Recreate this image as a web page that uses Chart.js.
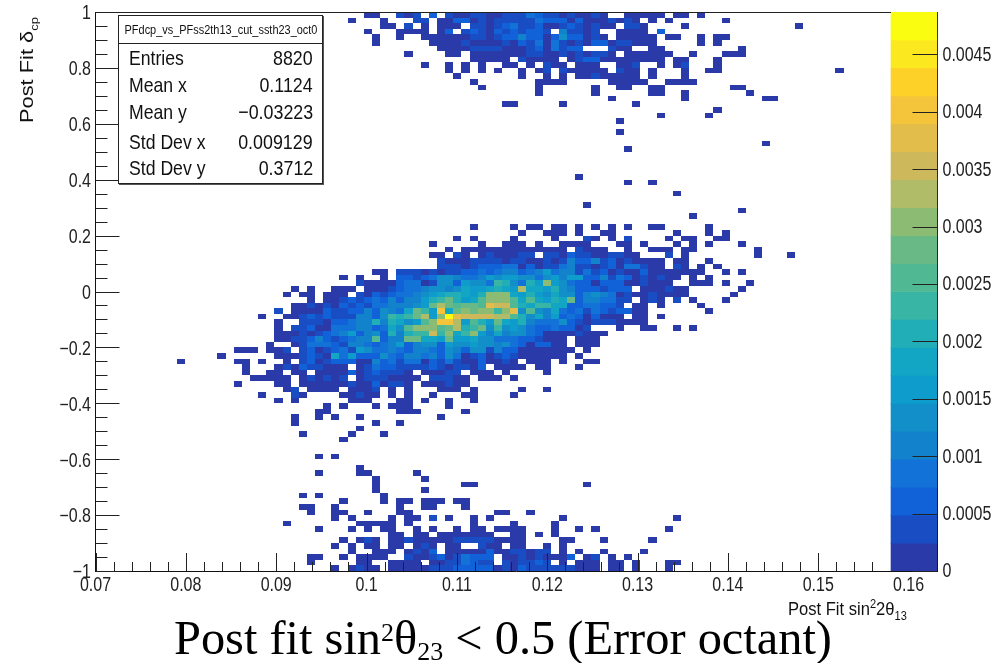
<!DOCTYPE html>
<html>
<head>
<meta charset="utf-8">
<title>Post fit</title>
<script src="https://cdn.jsdelivr.net/npm/chart.js@4"></script>
<style>
  body { margin: 0; background: #fff; }
  #wrap { position: relative; width: 1006px; height: 663px; overflow: hidden; color: #111; font-family: "Liberation Sans", sans-serif; }
  #wrap div { position: absolute; white-space: nowrap; }
  #stats { left: 118px; top: 15px; width: 203px; height: 167px; background: #fff; border: 1px solid #222;
           box-shadow: 1px 1px 0 #555; font-size: 21px; }
  #statsName { left: 0; right: 0; top: 0; height: 27px; border-bottom: 1px solid #222; }
  #statsName span { position: absolute; left: 50%; top: 0; font-size: 13.2px; line-height: 27px; transform: translateX(-50%) scaleX(0.83); }
  .key { left: 10px; transform-origin: 0 0; transform: scaleX(0.84); }
  .val { right: 9px; transform-origin: 100% 0; transform: scaleX(0.85); }
  #xTitle { left: 788px; top: 599px; font-size: 18px; transform-origin: 0 0; transform: scaleX(0.92); }
  #xTitle sup, #xTitle sub { font-size: 12px; line-height: 0; }
  #yTitle { left: 16px; top: 123px; font-size: 18.5px; transform-origin: 0 0; transform: rotate(-90deg) scaleX(1.18); }
  #yTitle sub { font-size: 11px; line-height: 0; }
  #mainTitle { left: 174px; top: 610px; font: 48.4px "Liberation Serif", serif; color: #000; }
  #mainTitle sup { font-size: 26px; line-height: 0; vertical-align: 13px; }
  #mainTitle sub { font-size: 26px; line-height: 0; vertical-align: -6px; }
</style>
</head>
<body>
<div id="wrap">
  <canvas id="histChart" width="1006" height="663"></canvas>
  <div id="stats">
    <div id="statsName"><span>PFdcp_vs_PFss2th13_cut_ssth23_oct0</span></div>
  </div>
  <div id="xTitle">Post Fit sin<sup>2</sup>2θ<sub>13</sub></div>
  <div id="yTitle">Post Fit δ<sub>cp</sub></div>
  <div id="mainTitle">Post fit sin<sup>2</sup>θ<sub>23</sub> &lt; 0.5 (Error octant)</div>
</div>
<script>
// axis ticks
const xTicks = [0.07, 0.08, 0.09, 0.1, 0.11, 0.12, 0.13, 0.14, 0.15, 0.16];
const yTicks = [-1, -0.8, -0.6, -0.4, -0.2, 0, 0.2, 0.4, 0.6, 0.8, 1];
const zTicks = [0, 0.0005, 0.001, 0.0015, 0.002, 0.0025, 0.003, 0.0035, 0.004, 0.0045];

// stats box
const statNames = ["Entries", "Mean x", "Mean y", "Std Dev x", "Std Dev y"];
const statValues = ["8820", "0.1124", "\u22120.03223", "0.009129", "0.3712"];
const statTops = [30, 57, 84, 114, 140];

// contour colours, lowest level first
const levelColors = ["#2a3aa8", "#184dc4", "#1162d8", "#1272d8", "#1282cc", "#128ec8", "#0e9ccc", "#12a6c4",
  "#22aeb6", "#38b5a4", "#50b892", "#68b985", "#8cbb74", "#b0bc68", "#cdb95c", "#e2bd4c",
  "#f4c43a", "#fdd128", "#fbe81e", "#fafd10"];

// histogram bins: [row from top, first x bin, levels]
const cellRuns = [
  [0,33,"00"],[0,37,"101"],[0,41,"2"],[0,43,"10011001113211010010"],[0,65,"00000"],[0,71,"00"],[0,74,"0"],
  [1,31,"0"],[1,35,"0"],[1,39,"11"],[1,42,"0022010111113222020001010"],[1,68,"0"],[1,70,"0"],[1,77,"0"],
  [2,35,"00"],[2,38,"1"],[2,40,"0"],[2,42,"000"],[2,46,"110123112001210100"],[2,65,"110"],[2,67,"0"],[2,72,"0"],[2,86,"0"],
  [3,33,"0"],[3,37,"0000"],[3,42,"02"],[3,45,"12102121221"],[3,57,"41101"],[3,64,"0000"],[3,69,"2"],
  [4,34,"0"],[4,37,"0"],[4,40,"000000"],[4,46,"11012242202522010"],[4,64,"00000"],[4,70,"00"],[4,74,"0"],[4,76,"00"],
  [5,34,"0"],[5,41,"0000100001021303101022011000"],[5,74,"0"],[5,76,"0"],
  [6,42,"00001111000"],[6,53,"1203122"],[6,63,"100"],[6,68,"00"],[6,79,"0"],
  [7,38,"0"],[7,43,"00"],[7,46,"00000001100101011"],[7,63,"0"],[7,65,"000000"],[7,73,"0"],[7,77,"000"],
  [8,46,"00000"],[8,52,"10000"],[8,58,"012200000000"],[8,71,"00"],[8,76,"0"],
  [9,40,"0"],[9,43,"0"],[9,45,"0"],[9,47,"0"],[9,50,"00"],[9,53,"0"],[9,55,"100"],[9,59,"000"],[9,64,"001"],[9,69,"0"],[9,71,"01"],[9,76,"0"],
  [10,43,"0"],[10,45,"0"],[10,47,"0"],[10,49,"0"],[10,52,"0"],[10,54,"01"],[10,57,"100000"],[10,64,"100"],[10,68,"0"],[10,72,"0"],[10,75,"00"],[10,91,"0"],
  [11,44,"0"],[11,52,"0"],[11,55,"0"],[11,57,"0"],[11,59,"00100000"],[11,68,"0"],[11,72,"0"],
  [12,46,"0"],[12,54,"0000"],[12,63,"00000"],[12,70,"0000"],
  [13,47,"0"],[13,54,"0"],[13,61,"0"],[13,64,"00"],[13,68,"00"],[13,78,"00"],
  [14,54,"0"],[14,61,"0"],[14,68,"00"],[14,72,"0"],[14,80,"0"],
  [15,63,"0"],[15,72,"0"],[15,82,"00"],
  [16,50,"00"],[16,57,"0"],[16,66,"0"],
  [17,76,"0"],[18,69,"0"],[18,75,"0"],[19,64,"0"],[21,64,"0"],[23,82,"0"],[24,65,"0"],
  [29,59,"0"],[30,65,"0"],[30,68,"0"],[32,71,"0"],
  [34,60,"0"],[35,79,"0"],[36,73,"0"],
  [38,46,"0"],[38,51,"0"],[38,53,"00"],[38,56,"00"],[38,59,"0"],[38,61,"0"],[38,63,"0"],[38,65,"0"],[38,68,"00"],[38,75,"0"],
  [39,52,"0"],[39,55,"000"],[39,59,"0"],[39,62,"00"],[39,71,"0"],[39,75,"0"],[39,77,"0"],
  [40,44,"0"],[40,46,"0"],[40,51,"0"],[40,56,"0"],[40,60,"10"],[40,63,"0"],[40,65,"1"],[40,70,"0"],[40,72,"00"],[40,76,"00"],
  [41,41,"0"],[41,47,"0"],[41,50,"000"],[41,54,"0"],[41,57,"0000"],[41,64,"00"],[41,67,"0"],[41,71,"0"],[41,73,"0"],[41,75,"0"],[41,79,"0"],
  [42,43,"0"],[42,45,"0000000000000"],[42,59,"1000"],[42,65,"0"],[42,68,"000"],[42,72,"00"],[42,81,"0"],
  [43,41,"00"],[43,44,"10"],[43,47,"0100011"],[43,55,"110211001100"],[43,70,"1"],[43,72,"0"],[43,81,"0"],[43,85,"0"],
  [44,42,"100011110110010142241201"],[44,66,"0000"],[44,71,"00"],[44,75,"0"],
  [45,42,"1110122233020113411012033100"],[45,71,"10"],[45,74,"0"],[45,76,"0"],
  [46,34,"00"],[46,37,"11101011223234423463441312010020000000"],[46,77,"0"],[46,79,"0"],
  [47,30,"0"],[47,32,"0"],[47,35,"0"],[47,37,"22123554334656655356466224132010100"],[47,73,"0"],[47,75,"0"],
  [48,32,"10000"],[48,37,"233015526553985386c653220222001000"],[48,73,"000"],[48,77,"0"],[48,80,"0"],
  [49,24,"0"],[49,26,"0"],[49,29,"000"],[49,33,"0001233455457667876d7768542221222"],[49,67,"000100"],[49,71,"00"],[49,79,"0"],
  [50,23,"0"],[50,25,"00"],[50,28,"000"],[50,32,"1021233456788768ccc7686575524543010010000"],[50,78,"0"],
  [51,26,"0"],[51,28,"001212324244689b867accca7a7687b2443311"],[51,67,"010"],[51,71,"1"],[51,73,"0"],[51,77,"0"],
  [52,24,"00101021213344456bdbabbafeea8799772233221"],[52,66,"00"],[52,69,"0"],[52,74,"0"],
  [53,22,"1"],[53,24,"000021122425437b96g7bcbcc9cf5a54732313212200"],[53,75,"0"],
  [54,20,"0"],[54,23,"0012121114425989bd6cjfeeeedda8574623202000"],[54,66,"00"],[54,69,"0"],
  [55,22,"0"],[55,25,"111022344848756acggd6a86b768433352101110000"],
  [56,22,"0"],[56,24,"11200333442375acccabd89b5956532232201"],[56,64,"0"],[56,67,"00"],[56,71,"0"],[56,73,"0"],
  [57,22,"0001012346245284899e9c79c6474553200001000"],
  [58,22,"001124212344a244bb776b66755333221000"],[58,59,"000"],
  [59,21,"0"],[59,24,"0133321443234624552655655453202200"],[59,59,"000"],
  [60,17,"000"],[60,21,"001"],[60,25,"1201231653343244325425514220000000"],[60,60,"0"],
  [61,15,"0"],[61,22,"000121073622253244342530120121000000"],[61,59,"0"],
  [62,10,"0"],[62,17,"00"],[62,20,"0"],[62,23,"0"],[62,25,"120122200423133021310020010"],[62,53,"000"],[62,57,"0"],[62,60,"00"],
  [63,18,"0"],[63,22,"010211000"],[63,32,"0132211112101102"],[63,49,"0000"],[63,54,"00"],[63,59,"0"],
  [64,18,"0"],[64,21,"00"],[64,24,"00"],[64,27,"000020121110"],[64,40,"00011"],[64,46,"000"],[64,50,"0"],[64,55,"0"],
  [65,19,"00000"],[65,25,"010101"],[65,32,"0111"],[65,36,"0000"],[65,41,"11100"],[65,47,"000"],[65,51,"0"],
  [66,17,"0"],[66,22,"00"],[66,25,"00000010020110"],[66,40,"000100"],
  [67,23,"01"],[67,26,"0000"],[67,31,"0001"],[67,36,"0"],[67,38,"0"],[67,42,"000"],[67,46,"0"],[67,52,"0"],[67,55,"0"],
  [68,20,"0"],[68,24,"10"],[68,30,"00100"],[68,36,"0"],[68,38,"0"],[68,41,"0"],[68,45,"00"],[68,51,"0"],
  [69,22,"0"],[69,24,"0"],[69,31,"000"],[69,37,"00"],[69,40,"0"],[69,43,"0"],[69,46,"0"],
  [70,28,"0"],[70,30,"0"],[70,34,"0"],[70,36,"000"],[70,43,"0"],
  [71,27,"00"],[71,37,"000"],[71,45,"0"],
  [72,24,"0"],[72,27,"0"],[72,29,"0"],[72,32,"0"],[72,42,"0"],
  [73,24,"0"],[73,34,"0"],[73,37,"0"],[74,32,"0"],[75,25,"0"],[75,31,"0"],[75,35,"0"],[76,30,"0"],
  [79,27,"0"],[79,29,"0"],[81,32,"0"],[82,27,"0"],[82,32,"00"],[82,39,"0"],
  [83,34,"0"],[83,40,"0"],[84,34,"0"],[84,45,"00"],[84,60,"0"],[85,34,"0"],[85,40,"0"],
  [86,25,"0"],[86,27,"0"],[86,35,"0"],
  [87,30,"0"],[87,35,"0"],[87,37,"00"],[87,40,"000"],[87,44,"00"],
  [88,25,"00"],[88,29,"0"],[88,37,"0"],[88,40,"00"],[88,45,"0"],
  [89,26,"0"],[89,29,"00"],[89,33,"0"],[89,37,"00"],[89,49,"00"],[89,53,"0"],
  [90,29,"0"],[90,31,"0"],[90,36,"0"],[90,38,"00"],[90,41,"1"],[90,43,"0"],[90,46,"0"],[90,48,"0"],[90,57,"0"],[90,71,"0"],
  [91,23,"0"],[91,32,"00000"],[91,38,"0"],[91,46,"0"],[91,51,"0"],[91,56,"0"],
  [92,27,"0"],[92,31,"0"],[92,33,"0"],[92,35,"00"],[92,39,"0"],[92,41,"0"],[92,44,"0"],[92,46,"00"],[92,49,"0000"],[92,56,"0"],[92,59,"0"],[92,61,"0"],[92,70,"0"],
  [93,36,"00"],[93,39,"00"],[93,42,"0000000"],[93,51,"00"],[93,54,"0"],[93,56,"0"],
  [94,30,"0"],[94,32,"010"],[94,36,"001"],[94,39,"00000"],[94,44,"11111"],[94,49,"0000"],[94,57,"00"],[94,62,"0"],[94,68,"0"],
  [95,29,"0"],[95,31,"0"],[95,33,"00"],[95,36,"00"],[95,39,"010"],[95,43,"00"],[95,47,"100"],[95,51,"00"],[95,55,"0"],[95,57,"0"],
  [96,31,"0"],[96,34,"000"],[96,38,"0102"],[96,43,"000002"],[96,49,"0011011"],[96,57,"0"],[96,59,"0"],[96,62,"0"],[96,67,"0"],
  [97,26,"00"],[97,30,"0"],[97,32,"0000"],[97,38,"10012013222"],[97,50,"001010002"],[97,60,"01"],[97,63,"0"],[97,65,"0"],
  [98,26,"0"],[98,32,"00"],[98,36,"0000"],[98,41,"00113211"],[98,50,"101121"],[98,57,"0"],[98,59,"000"],[98,63,"00"],[98,66,"0"],[98,70,"00"],
  [99,29,"0"],[99,31,"0100"],[99,36,"00000111222220102111111"],[99,59,"000"],[99,63,"00"],[99,66,"0"],[99,70,"0"]
];

const xRange = [0.07, 0.1632];
const yRange = [-1, 1];
const zMax = 0.00487;
const xBinWidth = 0.0009;
const yBinWidth = 0.02;
const xMinorStep = 0.002;
const yMinorStep = 0.05;
const paletteX = 0.1606;

// turn the runs into points with x, y and bin content
const zStep = zMax / levelColors.length;
const cells = [];
cellRuns.forEach(function (run) {
  const levels = run[2];
  for (let k = 0; k < levels.length; k++) {
    cells.push({
      x: xRange[0] + (run[1] + k + 0.5) * xBinWidth,
      y: yRange[1] - (run[0] + 0.5) * yBinWidth,
      z: (parseInt(levels[k], 36) + 0.5) * zStep
    });
  }
});

// colour bar, one floating bar per contour
const paletteBars = levelColors.map(function (c, i) {
  return { x: paletteX, y: [i * zStep, (i + 1) * zStep] };
});

// 2D bins, drawn from the scales like a COLZ plot
class HistCellController extends Chart.ScatterController {
  draw() {
    const ctx = this.chart.ctx;
    const meta = this.getMeta();
    const xs = meta.xScale, ys = meta.yScale;
    this.getDataset().data.forEach(function (d) {
      const x0 = Math.round(xs.getPixelForValue(d.x - xBinWidth / 2));
      const x1 = Math.round(xs.getPixelForValue(d.x + xBinWidth / 2));
      const y0 = Math.round(ys.getPixelForValue(d.y + yBinWidth / 2));
      const y1 = Math.round(ys.getPixelForValue(d.y - yBinWidth / 2));
      ctx.fillStyle = levelColors[Math.min(Math.floor(d.z / zStep), levelColors.length - 1)];
      ctx.fillRect(x0, y0, x1 - x0, y1 - y0);
    });
  }
}
HistCellController.id = "histcell";
HistCellController.defaults = Chart.ScatterController.defaults;
Chart.register(HistCellController);

const tickFontCss = "19.5px 'Liberation Sans', sans-serif";
const tickSqueeze = 0.82;
const minusLabel = function (v) { return String(v).replace("-", "\u2212"); };

function squeezedLabel(ctx, text, x, y, align) {
  ctx.save();
  ctx.translate(x, y);
  ctx.scale(tickSqueeze, 1);
  ctx.textAlign = align;
  ctx.textBaseline = "middle";
  ctx.fillText(text, 0, 0);
  ctx.restore();
}

// ROOT style ticks pointing into the frame, with the condensed labels
const frameTicks = {
  id: "frameTicks",
  afterDatasetsDraw: function (chart) {
    const ctx = chart.ctx, a = chart.chartArea;
    const sx = chart.scales.x, sy = chart.scales.y, sz = chart.scales.z;
    const palLeft = sx.getPixelForValue(paletteX) - 23;
    ctx.save();
    ctx.strokeStyle = "#222";
    ctx.lineWidth = 1;
    ctx.beginPath();
    for (let v = xRange[0]; v < 0.158; v += xMinorStep) {
      const px = Math.round(sx.getPixelForValue(v)) + 0.5;
      const major = xTicks.some(function (t) { return Math.abs(t - v) < 1e-6; });
      ctx.moveTo(px, a.bottom);
      ctx.lineTo(px, a.bottom - (major ? 18 : 9));
    }
    for (let k = 0; k <= 40; k++) {
      const py = Math.round(sy.getPixelForValue(yRange[0] + k * yMinorStep)) + 0.5;
      ctx.moveTo(a.left, py);
      ctx.lineTo(a.left + (k % 4 === 0 ? 24 : 12), py);
    }
    zTicks.forEach(function (t) {
      const py = Math.round(sz.getPixelForValue(t)) + 0.5;
      ctx.moveTo(a.right, py);
      ctx.lineTo(a.right - 25, py);
    });
    ctx.moveTo(a.left, Math.round(a.top) + 0.5);
    ctx.lineTo(palLeft, Math.round(a.top) + 0.5);
    ctx.stroke();

    ctx.font = tickFontCss;
    ctx.fillStyle = "#222";
    xTicks.forEach(function (t) { squeezedLabel(ctx, String(t), sx.getPixelForValue(t), a.bottom + 15, "center"); });
    yTicks.forEach(function (t) { squeezedLabel(ctx, minusLabel(t), a.left - 4.5, sy.getPixelForValue(t) + 2, "right"); });
    zTicks.forEach(function (t) { squeezedLabel(ctx, String(t), a.right + 5, sz.getPixelForValue(t) + 1, "left"); });
    ctx.restore();
  }
};

new Chart(document.getElementById("histChart"), {
  type: "histcell",
  data: {
    datasets: [
      { type: "histcell", label: "PFdcp_vs_PFss2th13_cut_ssth23_oct0", data: cells, xAxisID: "x", yAxisID: "y", order: 2 },
      { type: "bar", label: "palette", data: paletteBars, backgroundColor: levelColors,
        xAxisID: "x", yAxisID: "z", barThickness: 46, borderWidth: 0, order: 1 }
    ]
  },
  plugins: [frameTicks],
  options: {
    responsive: false,
    animation: false,
    events: [],
    layout: { padding: { top: 12 } },
    plugins: { legend: { display: false }, tooltip: { enabled: false }, title: { display: false } },
    scales: {
      x: {
        type: "linear", min: xRange[0], max: xRange[1], position: "bottom", offset: false,
        grid: { display: false, drawTicks: false },
        border: { display: true, color: "#111", width: 1 },
        afterBuildTicks: function (s) { s.ticks = xTicks.map(function (v) { return { value: v }; }); },
        afterFit: function (s) { s.height = 92; },
        ticks: { display: false }
      },
      y: {
        type: "linear", min: yRange[0], max: yRange[1], position: "left",
        grid: { display: false, drawTicks: false },
        border: { display: true, color: "#111", width: 1 },
        afterBuildTicks: function (s) { s.ticks = yTicks.map(function (v) { return { value: v }; }); },
        afterFit: function (s) { s.width = 95.5; },
        ticks: { display: false }
      },
      z: {
        type: "linear", min: 0, max: zMax, position: "right",
        grid: { display: false, drawTicks: false },
        border: { display: true, color: "#111", width: 1 },
        afterBuildTicks: function (s) { s.ticks = zTicks.map(function (v) { return { value: v }; }); },
        afterFit: function (s) { s.width = 68.5; },
        ticks: { display: false }
      }
    }
  }
});

// stats box rows
const statsBox = document.getElementById("stats");
statNames.forEach(function (name, i) {
  const k = document.createElement("div");
  k.className = "key";
  k.style.top = statTops[i] + "px";
  k.textContent = name;
  const v = document.createElement("div");
  v.className = "val";
  v.style.top = statTops[i] + "px";
  v.textContent = statValues[i];
  statsBox.appendChild(k);
  statsBox.appendChild(v);
});
</script>
</body>
</html>
